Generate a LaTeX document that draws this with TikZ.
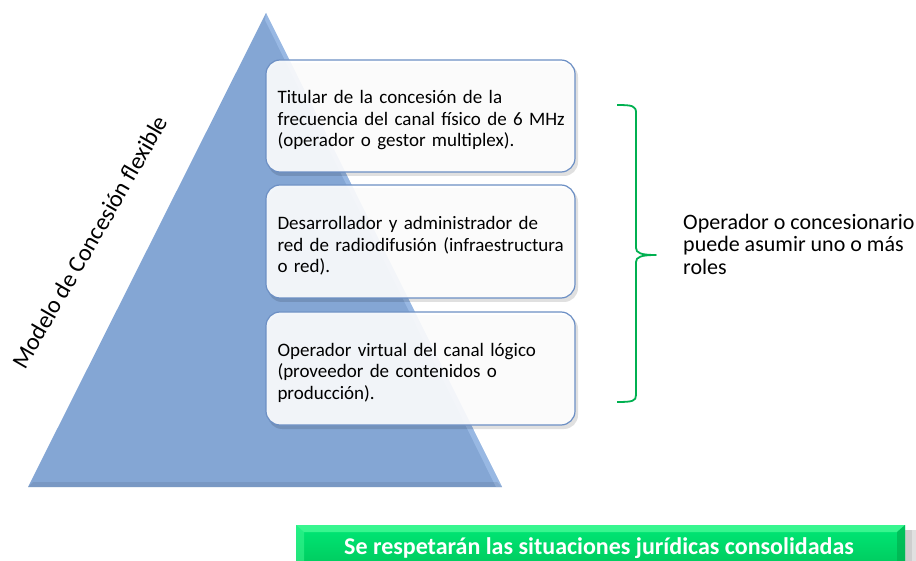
\documentclass[tikz,border=0pt]{standalone}
\usepackage{fontspec}
\setmainfont{Carlito}
\definecolor{triFill}{RGB}{132,166,212}
\definecolor{triLight}{RGB}{170,200,240}
\definecolor{boxBorder}{RGB}{108,143,196}
\definecolor{braceGreen}{RGB}{0,176,80}
\definecolor{banTop}{RGB}{0,232,118}
\definecolor{banBot}{RGB}{0,200,92}
\definecolor{banLight}{RGB}{70,250,150}
\definecolor{banDark}{RGB}{0,170,75}
\newcommand{\jline}[1]{\par\noindent\hbox to \linewidth{#1}\par}
\newcommand{\rline}[1]{\par\noindent\hbox to \linewidth{#1\hfil}\par}
\begin{document}
\begin{tikzpicture}[x=1pt,y=-1pt,
  rolebox/.style={draw=boxBorder, line width=1.2pt, rounded corners=14pt,
    fill=white, fill opacity=0.9, text opacity=1,
    minimum width=309pt, inner sep=0pt, text width=286pt,
    font=\fontsize{19}{21.7}\selectfont},
  boxshadow/.style={fill=black, fill opacity=0.12, rounded corners=14pt},
  sidetext/.style={font=\fontsize{22}{22.5}\selectfont, align=left, inner sep=0pt},
  brace/.style={draw=braceGreen, line width=1.8pt, line join=round}]
\useasboundingbox (0,0) rectangle (916,561);
\clip (0,0) rectangle (916,561);

% pyramid
\coordinate (apex) at (266,13);
\coordinate (bl) at (28,487);
\coordinate (br) at (502,487);
\fill[triFill] (apex) -- (br) -- (bl) -- cycle;
\fill[triLight, opacity=0.55] (apex) -- (br) -- (496,487) -- (265,20) -- cycle;
\fill[black, opacity=0.08] (bl) -- (br) -- (497,482) -- (33,482) -- cycle;

\node[rotate=60, font=\fontsize{24}{25}\selectfont, inner sep=0pt] (title) at (90,242) {Modelo de Concesión flexible};

% shadows
\fill[boxshadow] (268,63) rectangle (578,176);
\fill[boxshadow] (268,188) rectangle (578,302);
\fill[boxshadow] (268,315) rectangle (578,429);

\node[rolebox, minimum height=112pt] (b1) at (420.5,116) {%
\jline{Titular de la concesión de la}%
\jline{frecuencia del canal físico de 6 MHz}%
\rline{(operador o gestor multiplex).}};
\node[rolebox, minimum height=113pt] (b2) at (420.5,241.5) {%
\jline{Desarrollador y administrador de}%
\jline{red de radiodifusión (infraestructura}%
\rline{o red).}};
\node[rolebox, minimum height=113pt] (b3) at (420.5,368.5) {%
\jline{Operador virtual del canal lógico}%
\jline{(proveedor de contenidos o}%
\rline{producción).}};

% brace
\coordinate (btop) at (617,105);
\coordinate (bbot) at (617,402);
\coordinate (btip) at (656,255);
\draw[brace] (btop) .. controls (633,105) and (636,106) .. (636,113)
  -- (636,248) .. controls (636,253) and (641,255) .. (btip)
  .. controls (641,255) and (636,257) .. (636,262)
  -- (636,395) .. controls (636,401) and (633,402) .. (bbot);

\node[sidetext, anchor=north west] (roles) at (683,214) {Operador o concesionario\\puede asumir uno o más\\roles};

% banner
\fill[black, opacity=0.12] (905,530) rectangle (916,561);
\fill[black, opacity=0.08] (905,530) rectangle (912,561);
\node[rectangle, minimum width=609pt, minimum height=44pt, inner sep=0pt,
  top color=banTop, bottom color=banBot, anchor=center] (banner) at (600.5,547) {};
\fill[banLight, opacity=0.8] (296,525) -- (905,525) -- (897,532) -- (304,532) -- cycle;
\fill[banLight, opacity=0.5] (296,525) -- (304,532) -- (304,561) -- (296,561) -- cycle;
\fill[banDark, opacity=0.6] (905,525) -- (905,561) -- (897,561) -- (897,532) -- cycle;
\node[text=white, font=\bfseries\fontsize{24}{25}\selectfont, inner sep=0pt, anchor=base] (bantext) at (599,554) {Se respetarán las situaciones jurídicas consolidadas};
\end{tikzpicture}
\end{document}
